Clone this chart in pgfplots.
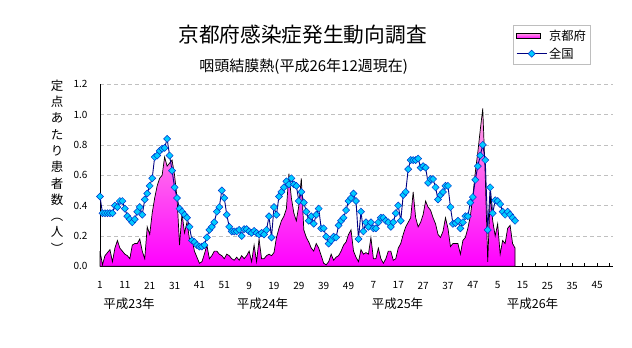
\documentclass[border=0pt]{standalone}
\usepackage{pgfplots}
\usepackage{pgfplotstable}
\pgfplotsset{compat=1.18}
\usepackage{fontspec}
\setmainfont{Noto Sans CJK JP}
\definecolor{navyline}{RGB}{0,0,128}
\definecolor{mkfill}{RGB}{0,204,255}
\definecolor{mkdraw}{RGB}{0,51,204}
\definecolor{pinktop}{RGB}{255,165,228}
\definecolor{pinkbot}{RGB}{255,0,255}
\definecolor{gridgray}{RGB}{192,192,192}
\definecolor{legborder}{RGB}{190,190,190}
\pgfplotsset{
  kyotoleg/.style={legend image code/.code={\draw[##1, line width=0.6pt] (0pt,-2.5pt) rectangle (24pt,2.5pt);}},
  zenkokuleg/.style={legend image code/.code={\draw[mark repeat=2,mark phase=2,##1] plot coordinates {(0pt,0pt) (15pt,0pt) (30pt,0pt)};}},
}

\pgfplotstableread{
i k n
1 0.10 0.46
2 0.01 0.35
3 0.07 0.35
4 0.09 0.35
5 0.11 0.35
6 0.03 0.35
7 0.12 0.40
8 0.17 0.39
9 0.12 0.43
10 0.10 0.43
11 0.08 0.38
12 0.07 0.33
13 0.05 0.31
14 0.14 0.29
15 0.15 0.31
16 0.15 0.36
17 0.18 0.39
18 0.10 0.34
19 0.05 0.44
20 0.26 0.48
21 0.21 0.53
22 0.35 0.58
23 0.45 0.72
24 0.53 0.73
25 0.58 0.76
26 0.60 0.775
27 0.72 0.78
28 0.66 0.84
29 0.68 0.73
30 0.70 0.63
31 0.60 0.52
32 0.45 0.45
33 0.14 0.38
34 0.35 0.36
35 0.22 0.34
36 0.29 0.32
37 0.18 0.26
38 0.18 0.17
39 0.10 0.16
40 0.06 0.14
41 0.02 0.13
42 0.03 0.13
43 0.08 0.14
44 0.14 0.19
45 0.05 0.24
46 0.07 0.26
47 0.10 0.29
48 0.10 0.36
49 0.08 0.39
50 0.07 0.50
51 0.05 0.45
52 0.08 0.34
53 0.07 0.26
54 0.05 0.23
55 0.04 0.23
56 0.06 0.23
57 0.04 0.24
58 0.07 0.20
59 0.05 0.245
60 0.07 0.245
61 0.10 0.23
62 0.03 0.22
63 0.14 0.233
64 0.03 0.22
65 0.18 0.21
66 0.05 0.22
67 0.05 0.21
68 0.07 0.24
69 0.08 0.33
70 0.07 0.19
71 0.09 0.39
72 0.19 0.34
73 0.25 0.46
74 0.30 0.49
75 0.33 0.52
76 0.38 0.56
77 0.61 0.54
78 0.45 0.58
79 0.35 0.54
80 0.30 0.53
81 0.40 0.43
82 0.58 0.49
83 0.24 0.42
84 0.19 0.36
85 0.16 0.30
86 0.12 0.33
87 0.10 0.28
88 0.15 0.34
89 0.12 0.38
90 0.07 0.25
91 0.02 0.25
92 0.01 0.195
93 0.03 0.15
94 0.08 0.17
95 0.04 0.195
96 0.06 0.19
97 0.07 0.27
98 0.10 0.30
99 0.14 0.32
100 0.16 0.37
101 0.21 0.43
102 0.24 0.45
103 0.10 0.48
104 0.06 0.43
105 0.03 0.18
106 0.11 0.36
107 0.08 0.23
108 0.09 0.29
109 0.08 0.26
110 0.19 0.29
111 0.05 0.25
112 0.05 0.25
113 0.12 0.29
114 0.05 0.32
115 0.02 0.32
116 0.05 0.30
117 0.10 0.29
118 0.10 0.26
119 0.04 0.29
120 0.05 0.35
121 0.12 0.40
122 0.15 0.30
123 0.21 0.47
124 0.26 0.49
125 0.29 0.64
126 0.32 0.70
127 0.49 0.70
128 0.32 0.70
129 0.26 0.71
130 0.29 0.65
131 0.34 0.66
132 0.43 0.65
133 0.39 0.55
134 0.37 0.575
135 0.32 0.575
136 0.28 0.52
137 0.21 0.44
138 0.19 0.47
139 0.23 0.49
140 0.32 0.53
141 0.25 0.53
142 0.13 0.39
143 0.15 0.28
144 0.15 0.285
145 0.15 0.30
146 0.08 0.25
147 0.17 0.29
148 0.19 0.33
149 0.25 0.33
150 0.33 0.42
151 0.46 0.456
152 0.62 0.57
153 0.75 0.66
154 0.90 0.73
155 1.04 0.80
156 0.60 0.70
157 0.03 0.24
158 0.47 0.52
159 0.30 0.35
160 0.20 0.435
161 0.28 0.43
162 0.08 0.41
163 0.17 0.36
164 0.15 0.34
165 0.25 0.36
166 0.27 0.34
167 0.15 0.32
168 0.12 0.30
}\data

\begin{document}
\begin{tikzpicture}
\fill[white] (0,0) rectangle (632pt,348pt);
\useasboundingbox (0,0) rectangle (632pt,348pt);
\begin{axis}[
  at={(100pt,81.7pt)}, anchor=south west,
  scale only axis, width=513pt, height=182.1pt,
  xmin=1, xmax=207.4, ymin=0, ymax=1.2,
  axis x line*=bottom, axis y line*=left,
  axis line style={-, black, line width=0.8pt},
  xtick={1,11,...,201},
  xticklabels={1,11,21,31,41,51,9,19,29,39,49,7,17,27,37,47,5,15,25,35,45},
  minor xtick={6,16,...,206},
  tick align=inside,
  major tick length=3.5pt, minor tick length=3.5pt,
  xtick style={black, line width=0.6pt},
  ytick={0,0.2,...,1.2},
  ytick style={draw=none},
  ymajorgrids,
  grid style={gridgray, dash pattern=on 4pt off 3pt, line width=0.7pt},
  tick label style={font=\fontsize{10}{11}\selectfont},
  /pgf/number format/assume math mode=true,
  yticklabel style={/pgf/number format/fixed, /pgf/number format/fixed zerofill, /pgf/number format/precision=1, xshift=-9pt},
  xticklabel style={yshift=-12pt},
  legend style={at={(0.957,1.325)}, anchor=north east, draw=legborder, line width=0.8pt,
    font=\fontsize{12.3}{13}\selectfont, inner sep=2.5pt, row sep=2pt,
    cells={anchor=west}},
  clip=false,
]
\addplot[draw=black, line width=0.7pt, top color=pinktop, bottom color=pinkbot, kyotoleg]
  table[x=i,y=k]{\data} \closedcycle;
\addlegendentry{京都府}
\addplot[navyline, line width=0.9pt, mark=square*, mark size=2.5pt,
  mark options={rotate=45, fill=mkfill, draw=mkdraw, line width=0.5pt}, zenkokuleg]
  table[x=i,y=n]{\data};
\addlegendentry{全国}
\end{axis}
\node[font=\fontsize{20.7}{22}\selectfont, inner sep=0pt] at (302.5pt,313pt) {京都府感染症発生動向調査};
\node[font=\fontsize{15}{16}\selectfont, inner sep=0pt] at (303.7pt,281.5pt) {咽頭結膜熱(平成26年12週現在)};
\node[font=\fontsize{12.5}{16.3}\selectfont, inner sep=0pt, align=center] at (57pt,181.5pt) {定\\点\\あ\\た\\り\\患\\者\\数\\︵\\人\\︶};
\node[font=\fontsize{12.5}{14}\selectfont, inner sep=0pt] at (129pt,44.5pt) {平成23年};
\node[font=\fontsize{12.5}{14}\selectfont, inner sep=0pt] at (262.5pt,44.5pt) {平成24年};
\node[font=\fontsize{12.5}{14}\selectfont, inner sep=0pt] at (397.5pt,44.5pt) {平成25年};
\node[font=\fontsize{12.5}{14}\selectfont, inner sep=0pt] at (532.5pt,44.5pt) {平成26年};
\end{tikzpicture}
\end{document}
